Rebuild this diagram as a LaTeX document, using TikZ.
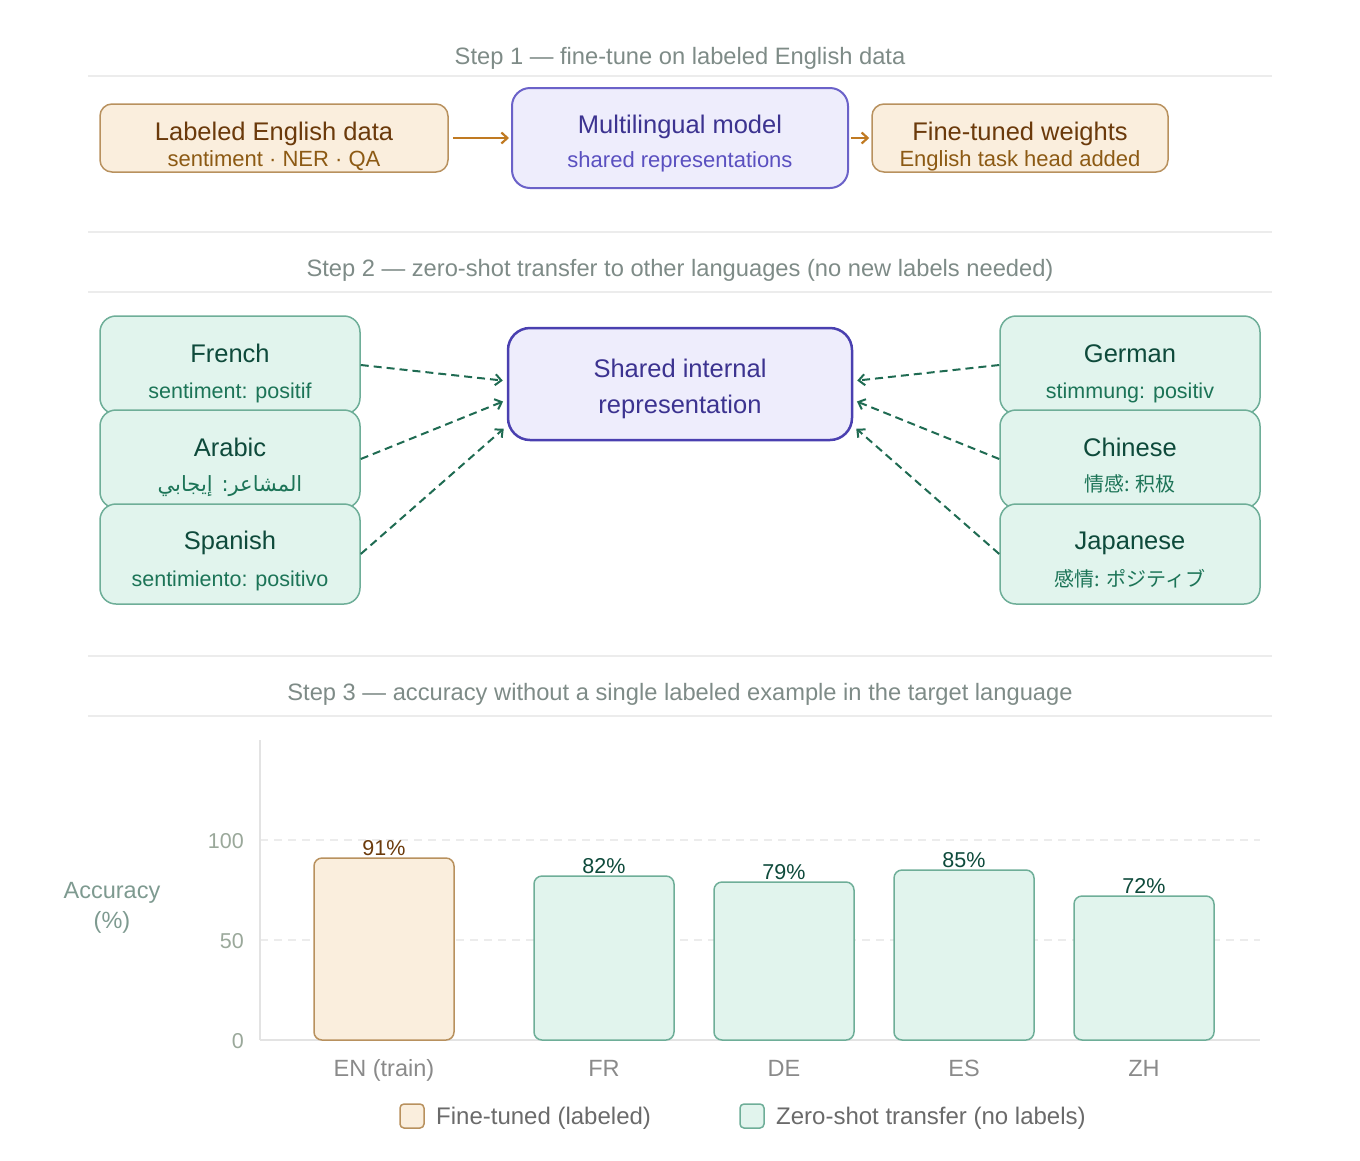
\documentclass[tikz,border=0pt]{standalone}
\usepackage{fontspec}
\setmainfont{Liberation Sans}
\newfontfamily\arabicfont[Script=Arabic]{DejaVu Sans}
\newfontfamily\zhfont{Noto Sans CJK SC}
\newfontfamily\jafont{Noto Sans CJK JP}
\TeXXeTstate=1
\usetikzlibrary{arrows.meta}

\definecolor{warmfill}{HTML}{FAEEDD}
\definecolor{warmline}{HTML}{B8915E}
\definecolor{warmtxt}{HTML}{6B3A0B}
\definecolor{warmsub}{HTML}{8C5A14}
\definecolor{purfill}{HTML}{EEEDFC}
\definecolor{purline}{HTML}{6B62C9}
\definecolor{purdark}{HTML}{4A40B0}
\definecolor{purtxt}{HTML}{3C3390}
\definecolor{pursub}{HTML}{5A50C0}
\definecolor{mintfill}{HTML}{E1F4ED}
\definecolor{mintline}{HTML}{6EAE98}
\definecolor{minttxt}{HTML}{0E4A3B}
\definecolor{mintsub}{HTML}{1C7457}
\definecolor{arrgreen}{HTML}{1F6B52}
\definecolor{arrorange}{HTML}{C07A22}
\definecolor{rulegray}{HTML}{ECECEC}
\definecolor{axisgray}{HTML}{E3E3E3}
\definecolor{steptxt}{HTML}{7E8B87}
\definecolor{ticktxt}{HTML}{9AA89A}
\definecolor{axtxt}{HTML}{7E9A90}
\definecolor{cattxt}{HTML}{8A8A8A}
\definecolor{legtxt}{HTML}{6A6A6A}

\newcommand{\fs}[1]{\fontsize{#1}{#1}\selectfont}

\begin{document}
\begin{tikzpicture}[x=1pt,y=-1pt,
    txt/.style={anchor=base,inner sep=0pt},
    steptitle/.style={txt,text=steptxt,font=\fs{23.7}},
    warmbox/.style={draw=warmline,fill=warmfill,line width=1.5pt,rounded corners=12pt},
    purbox/.style={draw=purline,fill=purfill,line width=2pt,rounded corners=18pt},
    mintbox/.style={draw=mintline,fill=mintfill,line width=1.5pt,rounded corners=16pt},
    bigtxt/.style={txt,font=\fs{25.5}},
    smalltxt/.style={txt,font=\fs{21.5}},
    sep/.style={rulegray,line width=1.5pt},
    flow/.style={arrorange,line width=2.2pt,-{Straight Barb[length=6pt,width=11pt]}},
    transfer/.style={arrgreen,line width=2pt,dash pattern=on 8pt off 5pt,
      -{Straight Barb[length=6pt,width=11pt]},shorten >=4pt},
    warmbar/.style={draw=warmline,fill=warmfill,line width=1.5pt,rounded corners=8pt},
    mintbar/.style={draw=mintline,fill=mintfill,line width=1.5pt,rounded corners=8pt}]
\useasboundingbox (0,0) rectangle (1360,1160);

% step 1
\node[steptitle] (s1) at (680,64.5) {Step 1 — fine-tune on labeled English data};
\draw[sep] (88,76) -- (1272,76);
\node[warmbox,minimum width=348pt,minimum height=68pt] (engdata) at (274,138) {};
\node[bigtxt,text=warmtxt] (engdata-t) at (274,140) {Labeled English data};
\node[smalltxt,text=warmsub,font=\fs{22}] (engdata-s) at (274,166) {sentiment · NER · QA};
\node[purbox,minimum width=336pt,minimum height=100pt] (model) at (680,138) {};
\node[bigtxt,text=purtxt] (model-t) at (680,133) {Multilingual model};
\node[smalltxt,text=pursub,font=\fs{22}] (model-s) at (680,167) {shared representations};
\node[warmbox,minimum width=296pt,minimum height=68pt] (weights) at (1020,138) {};
\node[bigtxt,text=warmtxt] (weights-t) at (1020,140) {Fine-tuned weights};
\node[smalltxt,text=warmsub,font=\fs{22}] (weights-s) at (1020,166) {English task head added};
\draw[flow,shorten <=4pt,shorten >=2pt] (engdata) -- (model);
\draw[flow,shorten <=2pt,shorten >=2pt] (model) -- (weights);

% step 2
\draw[sep] (88,232) -- (1272,232);
\node[steptitle] (s2) at (680,276.5) {Step 2 — zero-shot transfer to other languages (no new labels needed)};
\draw[sep] (88,292) -- (1272,292);

\node[mintbox,minimum width=260pt,minimum height=98pt] (fr) at (230,365) {};
\node[bigtxt,text=minttxt] (fr-t) at (230,362) {French};
\node[smalltxt,text=mintsub] (fr-s) at (230,398) {sentiment: positif};
\node[mintbox,minimum width=260pt,minimum height=98pt] (ar) at (230,459) {};
\node[bigtxt,text=minttxt] (ar-t) at (230,456) {Arabic};
\node[smalltxt,text=mintsub,font=\fs{21}\arabicfont] (ar-s) at (230,491) {\beginR المشاعر: إيجابي\endR};
\node[mintbox,minimum width=260pt,minimum height=100pt] (es) at (230,554) {};
\node[bigtxt,text=minttxt] (es-t) at (230,549) {Spanish};
\node[smalltxt,text=mintsub] (es-s) at (230,586) {sentimiento: positivo};

\node[mintbox,minimum width=260pt,minimum height=98pt] (de) at (1130,365) {};
\node[bigtxt,text=minttxt] (de-t) at (1130,362) {German};
\node[smalltxt,text=mintsub] (de-s) at (1130,398) {stimmung: positiv};
\node[mintbox,minimum width=260pt,minimum height=98pt] (zh) at (1130,459) {};
\node[bigtxt,text=minttxt] (zh-t) at (1130,456) {Chinese};
\node[smalltxt,text=mintsub,font=\fs{20}\zhfont] (zh-s) at (1130,491) {情感: 积极};
\node[mintbox,minimum width=260pt,minimum height=100pt] (ja) at (1130,554) {};
\node[bigtxt,text=minttxt] (ja-t) at (1130,549) {Japanese};
\node[smalltxt,text=mintsub,font=\fs{20}\jafont] (ja-s) at (1130,586) {感情: ポジティブ};

\node[purbox,draw=purdark,line width=2.5pt,rounded corners=22pt,
  minimum width=344pt,minimum height=112pt] (shared) at (680,384) {};
\node[bigtxt,text=purtxt] (shared-t1) at (680,377) {Shared internal};
\node[bigtxt,text=purtxt] (shared-t2) at (680,413) {representation};

\draw[transfer] (fr.east) -- ([yshift=3pt]shared.west);
\draw[transfer] (ar.east) -- ([yshift=-16pt]shared.west);
\draw[transfer] (es.east) -- ([yshift=-42pt]shared.west);
\draw[transfer] (de.west) -- ([yshift=3pt]shared.east);
\draw[transfer] (zh.west) -- ([yshift=-16pt]shared.east);
\draw[transfer] (ja.west) -- ([yshift=-42pt]shared.east);

% step 3
\draw[sep] (88,656) -- (1272,656);
\node[steptitle] (s3) at (680,700.5) {Step 3 — accuracy without a single labeled example in the target language};
\draw[sep] (88,716) -- (1272,716);

\draw[rulegray,line width=1.2pt,dash pattern=on 8pt off 6pt] (260,840) -- (1260,840);
\draw[rulegray,line width=1.2pt,dash pattern=on 8pt off 6pt] (260,940) -- (1260,940);
\draw[axisgray,line width=1.5pt] (260,740) -- (260,1040);
\draw[axisgray,line width=2pt] (260,1040) -- (1260,1040);
\foreach \v in {0,50,100}
  \node[txt,anchor=base east,text=ticktxt,font=\fs{21.5}] (tick-\v) at (244,{1048-2*\v}) {\v};
\node[txt,text=axtxt,font=\fs{23.5}] (ylab1) at (112,898.5) {Accuracy};
\node[txt,text=axtxt,font=\fs{23.5}] (ylab2) at (112,928) {(\%)};

\foreach \cx/\val/\lab/\st in {384/91/EN (train)/warm,604/82/FR/mint,784/79/DE/mint,964/85/ES/mint,1144/72/ZH/mint}{
  \draw[\st bar] ({\cx-70},1040) rectangle ({\cx+70},{1040-2*\val});
  \node[txt,text=\st txt,font=\fs{21.5}] (val-\cx) at (\cx,{1040-2*\val-2.5}) {\val\%};
  \node[txt,text=cattxt,font=\fs{23.5}] (cat-\cx) at (\cx,1076.5) {\lab};
}

% legend
\node[warmbar,rounded corners=4pt,minimum size=24pt,inner sep=0pt] (leg1) at (412,1116) {};
\node[txt,anchor=base west,text=legtxt,font=\fs{24}] (leg1-t) at (436,1124.5) {Fine-tuned (labeled)};
\node[mintbar,rounded corners=4pt,minimum size=24pt,inner sep=0pt] (leg2) at (752,1116) {};
\node[txt,anchor=base west,text=legtxt,font=\fs{24}] (leg2-t) at (776,1124.5) {Zero-shot transfer (no labels)};
\end{tikzpicture}
\end{document}
